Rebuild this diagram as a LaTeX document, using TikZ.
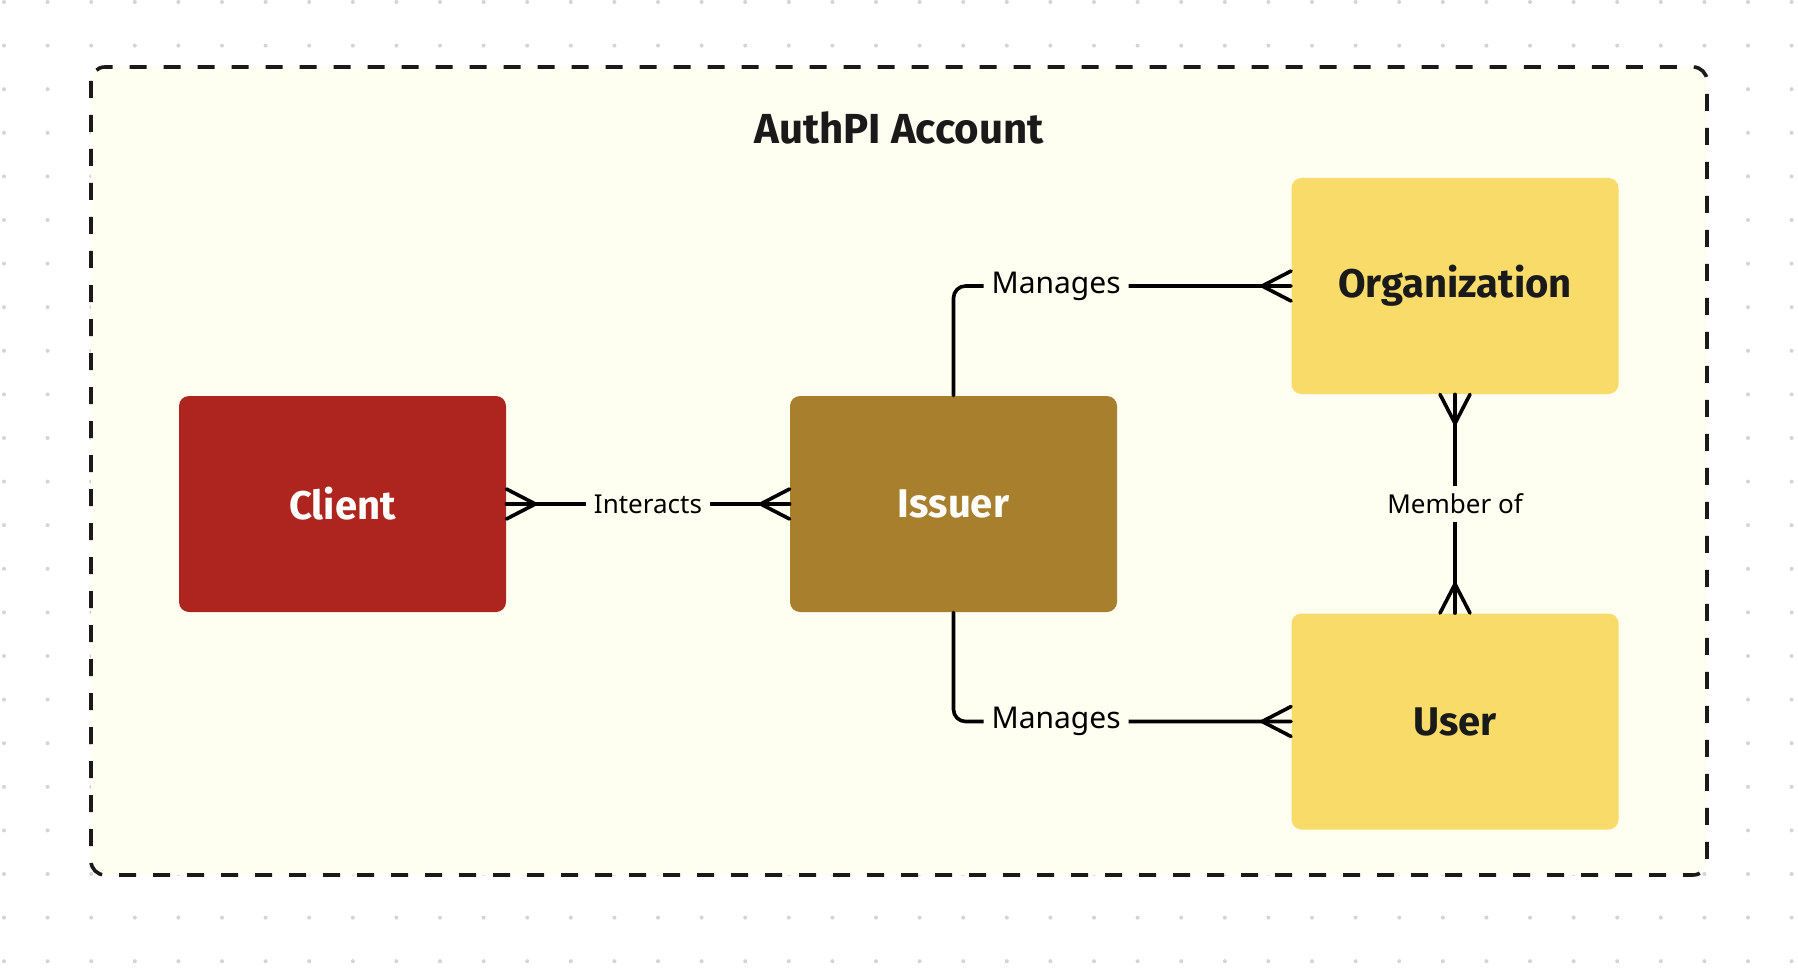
\documentclass[tikz,border=0pt]{standalone}
\usepackage{fontspec}
\setmainfont{Noto Sans}
\newfontfamily\headfont{Fira Sans}
\usetikzlibrary{positioning}

\definecolor{canvasbg}{HTML}{FEFEF1}
\definecolor{griddot}{HTML}{D4D4D4}
\definecolor{clientred}{HTML}{AD251E}
\definecolor{issuergold}{HTML}{A87F2C}
\definecolor{entityyellow}{HTML}{F8DB68}
\definecolor{inkdark}{HTML}{1A1A1A}

\tikzset{
    entity/.style={rectangle, rounded corners=5pt, minimum width=163.5pt,
        minimum height=108pt, font=\headfont\bfseries\fontsize{20}{24}\selectfont},
    conn/.style={line width=1.8pt, black, line cap=round, line join=round},
    relname/.style={fill=canvasbg, inner sep=4pt, font=\fontsize{13}{16}\selectfont},
    crow/.pic={\draw[conn] (0,-15) -- (29,0) -- (0,15);}
}

\begin{document}
\begin{tikzpicture}[x=0.5pt, y=-0.5pt]
    \useasboundingbox (0,0) rectangle (1798,968);
    \fill[white] (0,0) rectangle (1798,968);

    % Dotted canvas
    \foreach \i in {0,...,41} {
        \foreach \j in {0,...,22} {
            \fill[griddot] ({4+43.6*\i}, {2+43.6*\j}) circle (1pt);
        }
    }

    % Account boundary
    \draw[line width=1.8pt, inkdark, dash pattern=on 8.5pt off 8.5pt,
        rounded corners=7pt, fill=canvasbg] (91,67) rectangle (1707,875);
    \node[font=\headfont\bfseries\fontsize{21}{25}\selectfont, text=inkdark] (title) at (899,128) {AuthPI Account};

    % Entities
    \node[entity, fill=clientred, text=white] (client) at (342.5,504) {Client};
    \node[entity, fill=issuergold, text=white] (issuer) at (953.5,504) {Issuer};
    \node[entity, fill=entityyellow, text=inkdark] (org) at (1455,286) {Organization};
    \node[entity, fill=entityyellow, text=inkdark] (user) at (1455,721.5) {User};

    % Relations
    \draw[conn] (client.east) -- (issuer.west)
        node[relname, midway] (interacts) {Interacts};
    \draw[conn, rounded corners=6pt] (issuer.north) |- (org.west)
        node[relname, pos=0.652, font=\fontsize{15}{18}\selectfont] (managesorg) {Manages};
    \draw[conn, rounded corners=6pt] (issuer.south) |- (user.west)
        node[relname, pos=0.652, font=\fontsize{15}{18}\selectfont] (managesuser) {Manages};
    \draw[conn] (org.south) -- (user.north)
        node[relname, midway] (memberof) {Member of};

    % Crow's feet
    \pic at (client.east) {crow};
    \pic[rotate=180] at (issuer.west) {crow};
    \pic[rotate=180] at (org.west) {crow};
    \pic[rotate=180] at (user.west) {crow};
    \pic[rotate=-90] at (org.south) {crow};
    \pic[rotate=90] at (user.north) {crow};
\end{tikzpicture}
\end{document}
